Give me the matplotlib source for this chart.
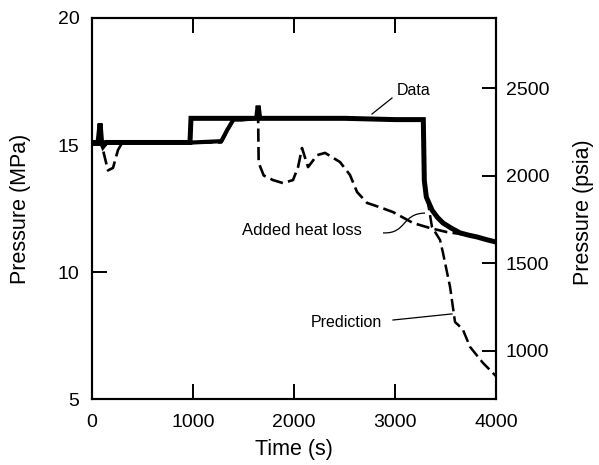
import matplotlib
matplotlib.use('Agg')
import matplotlib.pyplot as plt
from matplotlib.path import Path
from matplotlib.patches import PathPatch

plt.rcParams['font.family'] = ['Liberation Sans', 'DejaVu Sans']

MPA_TO_PSIA = 145.038

# measured data (thick solid)
data_t = [0, 60, 80, 95, 110, 140, 300, 600, 970, 980, 1200, 1500, 1630,
          1645, 1660, 2000, 2500, 3000, 3280, 3290, 3310, 3366, 3420, 3475,
          3560, 3644, 3730, 3812, 3900, 4000]
data_p = [15.1, 15.1, 15.85, 15.1, 14.95, 15.1, 15.1, 15.1, 15.1, 16.05,
          16.05, 16.05, 16.05, 16.55, 16.05, 16.05, 16.05, 16.0, 16.0, 13.6,
          12.95, 12.44, 12.15, 11.93, 11.72, 11.54, 11.45, 11.38, 11.28,
          11.18]

# lower trace, 1000-1500 s, before it joins the data
base_t = [0, 1000, 1280, 1340, 1400, 1480, 1600]
base_p = [15.1, 15.1, 15.15, 15.6, 16.0, 16.0, 16.05]

# model with added heat loss (dashed)
heat_t = [0, 90, 109, 158, 208, 257, 300, 400, 1280, 1400, 1600, 1644,
          1650, 1700, 1792, 1891, 1990, 2040, 2079, 2139, 2228, 2307, 2455,
          2554, 2624, 2723, 2850, 2980, 3178, 3347, 3515, 3644, 3800, 4000]
heat_p = [15.1, 15.1, 14.8, 14.0, 14.1, 14.8, 15.1, 15.1, 15.1, 16.0, 16.05,
          16.3, 14.3, 13.8, 13.62, 13.5, 13.62, 14.13, 14.88, 14.13, 14.6,
          14.69, 14.33, 13.82, 13.15, 12.72, 12.55, 12.36, 11.93, 11.73,
          11.57, 11.5, 11.38, 11.18]

# prediction after the break (dashed)
pred_t = [3290, 3317, 3366, 3446, 3475, 3545, 3594, 3630, 3673, 3743, 3871,
          3990, 4000]
pred_p = [13.6, 12.95, 11.77, 11.26, 10.75, 9.41, 8.03, 7.9, 7.72, 7.05,
          6.42, 5.94, 5.9]

x_ticks = [0, 1000, 2000, 3000, 4000]
mpa_ticks = [5, 10, 15, 20]
psia_ticks = [1000, 1500, 2000, 2500]

fig = plt.figure(figsize=(5.99, 4.65), dpi=100)
ax = fig.add_axes([0.1536, 0.1419, 0.6745, 0.8194])

ax.plot(heat_t, heat_p, color='black', lw=1.9, dashes=(5, 2), zorder=2)
ax.plot(pred_t, pred_p, color='black', lw=1.8, dashes=(5, 2), zorder=2)
ax.plot(base_t, base_p, color='black', lw=3.0, zorder=3)
ax.plot(data_t, data_p, color='black', lw=3.6, zorder=4,
        solid_joinstyle='miter')

ax.set_xlim(0, 4000)
ax.set_ylim(5, 20)
ax.set_xticks(x_ticks)
ax.set_yticks(mpa_ticks)

for side in ax.spines.values():
    side.set_linewidth(1.5)

ax.tick_params(direction='in', length=11, width=1.4, labelsize=14,
               top=True, right=False, pad=9)
ax.tick_params(axis='x', pad=11)

ax.set_xlabel('Time (s)', fontsize=15.5)
ax.xaxis.set_label_coords(0.5, -0.105)
ax.set_ylabel('Pressure (MPa)', fontsize=15.5)
ax.yaxis.set_label_coords(-0.15, 0.5)

ax2 = ax.twinx()
ax2.set_ylim(5 * MPA_TO_PSIA, 20 * MPA_TO_PSIA)
ax2.set_yticks(psia_ticks)
ax2.tick_params(direction='in', length=10, width=1.4, labelsize=14, pad=7)
ax2.set_ylabel('Pressure (psia)', fontsize=15.5, rotation=90)
ax2.yaxis.set_label_coords(1.19, 0.49)
for side in ax2.spines.values():
    side.set_linewidth(1.5)

# labels with leader lines
ax.text(3188, 17.13, 'Data', fontsize=11.5, ha='center', va='center')
ax.plot([2970, 2772], [16.85, 16.22], color='black', lw=0.9, zorder=5)

ax.text(2079, 11.65, 'Added heat loss', fontsize=12, ha='center',
        va='center')
s_curve = Path([(2881, 11.54), (3120, 11.5), (3060, 12.3), (3297, 12.32)],
               [Path.MOVETO, Path.CURVE4, Path.CURVE4, Path.CURVE4])
ax.add_patch(PathPatch(s_curve, fill=False, lw=0.9, color='black',
                       zorder=5))

ax.text(2515, 8.03, 'Prediction', fontsize=11.5, ha='center', va='center')
ax.plot([2980, 3564], [8.11, 8.35], color='black', lw=0.9, zorder=5)

fig.savefig('out.png', dpi=100)
